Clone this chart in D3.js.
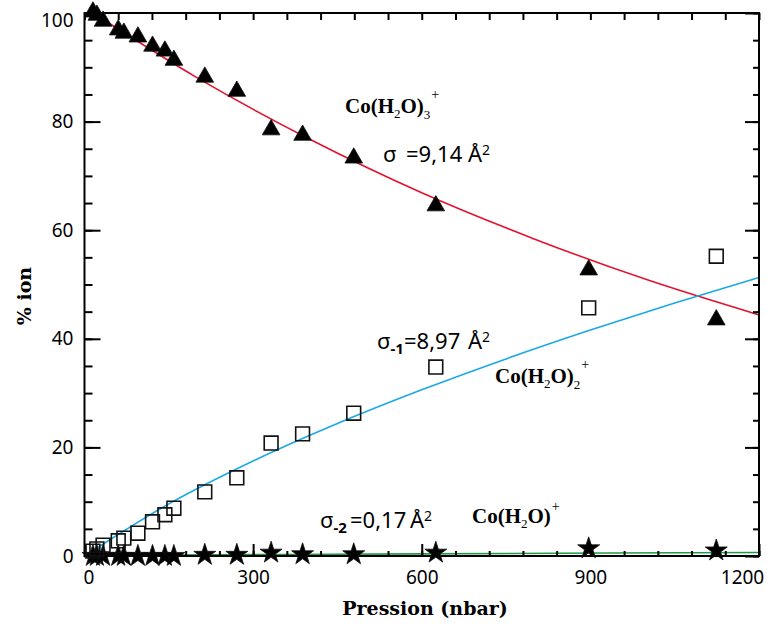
<!DOCTYPE html>
<html>
<head>
<meta charset="utf-8">
<script src="https://cdn.jsdelivr.net/npm/d3@7"></script>
<style>
body { margin: 0; background: #fff; }
text { fill: #000; }
</style>
</head>
<body>
<svg width="767" height="625"></svg>
<script>
// pressures (nbar) of the measured points, shared by the three ions
var pressure = [15, 22, 33, 60, 70, 95, 121, 143, 159, 214, 271, 332, 388, 479, 625, 897, 1124];
// % ion
var ion3 = [100.2, 99.6, 98.5, 96.9, 96.3, 95.6, 93.9, 93.0, 91.3, 88.2, 85.6, 78.5, 77.5, 73.3, 64.5, 52.7, 43.5];
var ion2 = [0.9, 1.3, 2.0, 2.8, 3.3, 4.2, 6.3, 7.6, 8.8, 11.8, 14.4, 20.8, 22.5, 26.3, 34.8, 45.7, 55.2];
var ion1 = [0.0, 0.0, 0.0, 0.0, 0.0, 0.0, 0.0, 0.0, 0.0, 0.2, 0.2, 0.6, 0.3, 0.3, 0.6, 1.4, 1.0];

// fitted curves
var fit3P = [15, 200, 400, 600, 800, 1000, 1200];
var fit3 = [100, 88.1, 76.8, 66.9, 58.4, 50.9, 44.4];
var fit2P = [0, 150, 300, 450, 600, 750, 900, 1050, 1200];
var fit2 = [0, 9.6, 17.5, 24.4, 30.6, 36.3, 41.6, 46.6, 51.3];
var fit1P = [0, 600, 1200];
var fit1 = [0.1, 0.4, 0.65];

var xMajor = [0, 300, 600, 900, 1200];
var yMajor = [0, 20, 40, 60, 80, 100];

var svg = d3.select("svg");

var x = d3.scaleLinear().domain([0, 1200]).range([84.5, 759]);
var y = d3.scaleLinear().domain([0, 100]).range([556, 13]);

var g = svg.append("g");

// curves
var line = d3.line()
    .x(function (d) { return x(d[0]); })
    .y(function (d) { return y(d[1]); })
    .curve(d3.curveMonotoneX);

function drawFit(ps, vs, color) {
    g.append("path")
        .datum(ps.map(function (p, i) { return [p, vs[i]]; }))
        .attr("d", line)
        .attr("fill", "none")
        .attr("stroke", color)
        .attr("stroke-width", 1.6);
}
drawFit(fit3P, fit3, "#e3132f");
drawFit(fit2P, fit2, "#1ba9e6");
drawFit(fit1P, fit1, "#1f9a45");

// axes
function styleAxis(sel) {
    sel.select(".domain").remove();
    sel.selectAll("line").attr("stroke", "#000").attr("stroke-width", 2);
    sel.selectAll("text")
        .style("font-family", "'Noto Sans', sans-serif")
        .style("font-size", "19px")
        .attr("fill", "#000");
}

g.append("g").attr("transform", "translate(" + x.range()[0] + ",0)")
    .call(d3.axisLeft(y).tickValues(d3.range(0, 101, 5)).tickSize(-8).tickFormat(""))
    .call(styleAxis);
var yAx = g.append("g").attr("transform", "translate(" + x.range()[0] + ",0)")
    .call(d3.axisLeft(y).tickValues(yMajor).tickSize(-16).tickPadding(11).tickFormat(d3.format("d")))
    .call(styleAxis);
yAx.selectAll("text").filter(function (d) { return d === 100; }).attr("y", 7);

g.append("g").attr("transform", "translate(" + x.range()[1] + ",0)")
    .call(d3.axisRight(y).tickValues(d3.range(0, 101, 5)).tickSize(-6).tickFormat(""))
    .call(styleAxis);
g.append("g").attr("transform", "translate(" + x.range()[1] + ",0)")
    .call(d3.axisRight(y).tickValues(yMajor).tickSize(-14).tickFormat(""))
    .call(styleAxis);

g.append("g").attr("transform", "translate(0," + y.range()[0] + ")")
    .call(d3.axisBottom(x).tickValues(d3.range(0, 1201, 60)).tickSize(-5).tickFormat(""))
    .call(styleAxis);
var xAx = g.append("g").attr("transform", "translate(0," + y.range()[0] + ")")
    .call(d3.axisBottom(x).tickValues(xMajor).tickSize(-12).tickPadding(15).tickFormat(d3.format("d")))
    .call(styleAxis);
xAx.selectAll("text").attr("x", function (d) {
    if (d === 0) return 4;
    if (d === 1200) return -17;
    return 0;
});

g.append("g").attr("transform", "translate(0," + y.range()[1] + ")")
    .call(d3.axisTop(x).tickValues(d3.range(0, 1201, 60)).tickSize(-7).tickFormat(""))
    .call(styleAxis);

g.append("rect")
    .attr("x", x.range()[0]).attr("y", y.range()[1])
    .attr("width", x.range()[1] - x.range()[0])
    .attr("height", y.range()[0] - y.range()[1])
    .attr("fill", "none").attr("stroke", "#000").attr("stroke-width", 2);

// markers
function drawPoints(vs, type, size, fill) {
    g.append("g").selectAll("path")
        .data(pressure.map(function (p, i) { return [p, vs[i]]; }))
        .enter().append("path")
        .attr("transform", function (d) { return "translate(" + x(d[0]) + "," + y(d[1]) + ")"; })
        .attr("d", d3.symbol().type(type).size(size))
        .attr("fill", fill)
        .attr("stroke", "#111")
        .attr("stroke-width", fill === "none" ? 1.6 : 0.8);
}
drawPoints(ion1, d3.symbolStar, 150, "#000");
drawPoints(ion2, d3.symbolSquare, 190, "none");
drawPoints(ion3, d3.symbolTriangle, 135, "#000");

// axis titles
svg.append("text")
    .attr("x", 425).attr("y", 615)
    .attr("text-anchor", "middle")
    .style("font-family", "'DejaVu Serif', serif")
    .style("font-weight", "bold")
    .style("font-size", "19px")
    .text("Pression (nbar)");

svg.append("text")
    .attr("transform", "translate(31,296) rotate(-90)")
    .attr("text-anchor", "middle")
    .style("font-family", "'DejaVu Serif', serif")
    .style("font-weight", "bold")
    .style("font-size", "19px")
    .text("% ion");

// annotations
function chem(x0, y0, sub) {
    var t = svg.append("text")
        .attr("x", x0).attr("y", y0)
        .style("font-family", "'Liberation Serif', serif")
        .style("font-weight", "bold")
        .style("font-size", "21px");
    t.append("tspan").text("Co(H");
    t.append("tspan").attr("dy", 5).style("font-size", "13px").style("font-weight", "normal").text("2");
    t.append("tspan").attr("dy", -5).text("O)");
    if (sub) {
        t.append("tspan").attr("dy", 6).style("font-size", "13px").style("font-weight", "normal").text(sub);
        t.append("tspan").attr("dy", -20).attr("dx", 1).style("font-size", "14px").style("font-weight", "normal").text("+");
    } else {
        t.append("tspan").attr("dy", -12).attr("dx", 1).style("font-size", "14px").style("font-weight", "normal").text("+");
    }
}
chem(345, 113, "3");
chem(495, 383, "2");
chem(472, 523, null);

function sigma(x0, y0, sub, val, xEq, xA) {
    var t = svg.append("text")
        .attr("x", x0).attr("y", y0)
        .style("font-family", "'Noto Sans', sans-serif")
        .style("font-size", "22px");
    t.append("tspan").text("σ");
    if (sub) {
        t.append("tspan").attr("dy", 5).style("font-size", "15px").style("font-weight", "bold").text(sub);
        t.append("tspan").attr("dy", -5).attr("x", xEq).text("=" + val);
    } else {
        t.append("tspan").attr("x", xEq).text("=" + val);
    }
    t.append("tspan").attr("x", xA).text("Å");
    t.append("tspan").attr("dy", -7).style("font-size", "14px").text("2");
}
sigma(383, 162, null, "9,14", 406, 468);
sigma(377, 349, "-1", "8,97", 404, 468);
sigma(320, 528, "-2", "0,17", 350, 410);
</script>
</body>
</html>
